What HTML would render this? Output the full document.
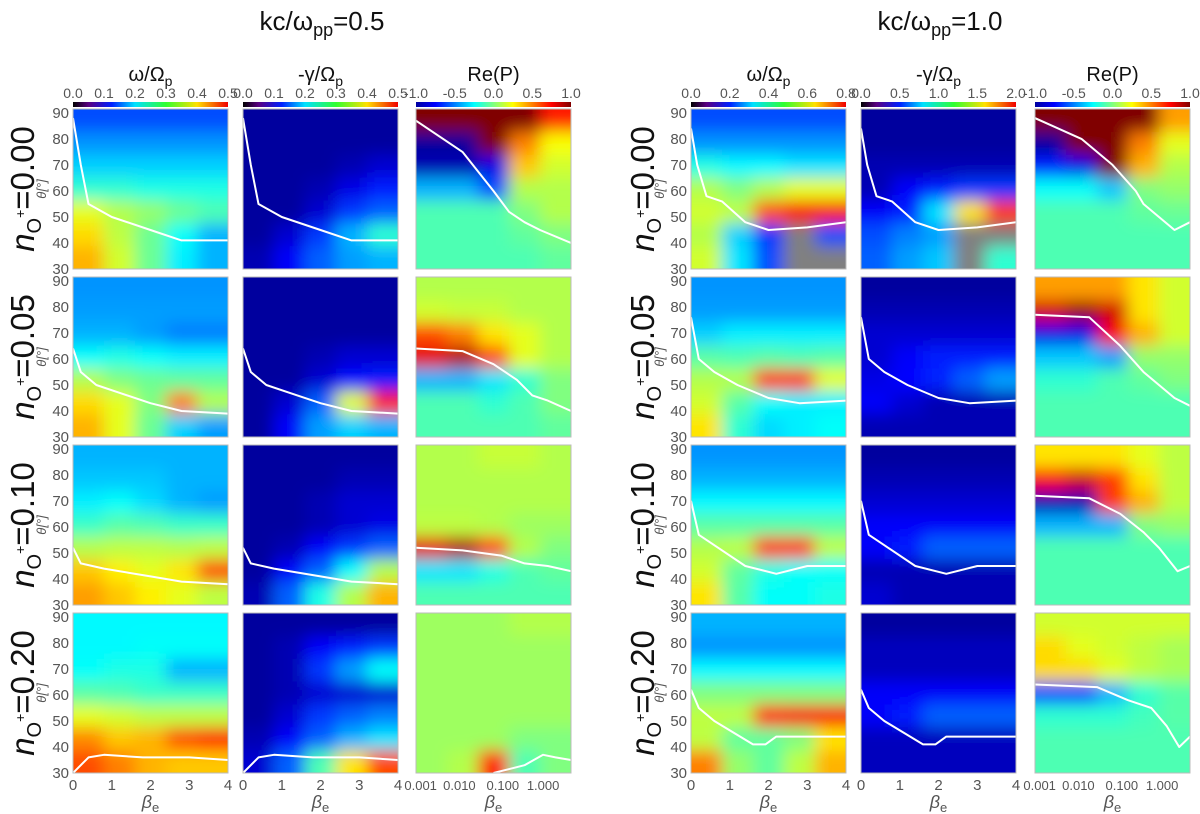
<!DOCTYPE html>
<html><head><meta charset="utf-8"><style>
html,body{margin:0;padding:0;background:#fff;}
svg{display:block;font-family:"Liberation Sans","DejaVu Sans",sans-serif;}
</style></head><body>
<svg id="fig" width="1200" height="814" viewBox="0 0 1200 814" xmlns="http://www.w3.org/2000/svg">
<defs>
<filter id="bl" x="-20%" y="-20%" width="140%" height="140%"><feGaussianBlur stdDeviation="8"/></filter>
<linearGradient id="cbJetBlack" x1="0" x2="1" y1="0" y2="0">
<stop offset="0" stop-color="#000"/><stop offset="0.1" stop-color="#5a0080"/><stop offset="0.25" stop-color="#0020ff"/><stop offset="0.4" stop-color="#00e0ff"/><stop offset="0.6" stop-color="#30ff30"/><stop offset="0.8" stop-color="#ffe000"/><stop offset="1" stop-color="#f00000"/></linearGradient>
<linearGradient id="cbJet" x1="0" x2="1" y1="0" y2="0">
<stop offset="0" stop-color="#0000a0"/><stop offset="0.125" stop-color="#0000ff"/><stop offset="0.375" stop-color="#00ffff"/><stop offset="0.625" stop-color="#ffff00"/><stop offset="0.875" stop-color="#ff0000"/><stop offset="1" stop-color="#800000"/></linearGradient>
</defs>
<text x="322" y="30" font-size="26" text-anchor="middle" fill="#111">kc/ω<tspan font-size="18" dy="6">pp</tspan><tspan dy="-6">=0.5</tspan></text>
<text x="940" y="30" font-size="26" text-anchor="middle" fill="#111">kc/ω<tspan font-size="18" dy="6">pp</tspan><tspan dy="-6">=1.0</tspan></text>
<g id="panels"></g>
</svg>
<script>
// ---- data ----
const thetaRows = [90,80,70,60,50,40,30];
const yTicks = [30,40,50,60,70,80,90];
const linTicks = ['0','1','2','3','4'];
const logTicks = ['0.001','0.010','0.100','1.000'];
const rowLabels = ['0.00','0.05','0.10','0.20'];
const colTitlesL = ['ω/Ω','-γ/Ω','Re(P)'];
const cbTicksL = [['0.0','0.1','0.2','0.3','0.4','0.5'],['0.0','0.1','0.2','0.3','0.4','0.5'],['-1.0','-0.5','0.0','0.5','1.0']];
const cbTicksR = [['0.0','0.2','0.4','0.6','0.8'],['0.0','0.5','1.0','1.5','2.0'],['-1.0','-0.5','0.0','0.5','1.0']];
const G = -1; // gray (no solution)
const gridL = [
 [
  [[.2,.2,.2,.2,.2],[.27,.27,.27,.27,.27],[.33,.33,.33,.33,.33],[.42,.42,.4,.4,.4],[.6,.55,.52,.48,.45],[.66,.56,.48,.38,.3],[.7,.58,.48,.36,.3]],
  [[.03,.03,.03,.03,.03],[.03,.03,.03,.03,.03],[.03,.03,.03,.05,.08],[.03,.03,.05,.1,.15],[.03,.03,.08,.18,.22],[.03,.08,.18,.3,.42],[.05,.12,.22,.28,.3]],
  [[1,1,1,1,.85],[.03,.03,1,.75,.62],[.05,.05,.1,.68,.58],[.3,.3,.2,.55,.55],[.45,.45,.45,.5,.55],[.45,.45,.45,.47,.5],[.45,.45,.45,.45,.47]]
 ],
 [
  [[.27,.27,.27,.27,.27],[.28,.28,.28,.28,.28],[.3,.3,.28,.25,.25],[.38,.4,.38,.36,.36],[.55,.5,.48,.47,.47],[.66,.6,.5,.75,.55],[.7,.6,.48,.33,.28]],
  [[.03,.03,.03,.03,.03],[.03,.03,.03,.03,.03],[.03,.03,.03,.03,.03],[.03,.03,.05,.08,.08],[.03,.03,.08,.14,.15],[.03,.08,.22,.6,.85],[.03,.12,.28,.33,.3]],
  [[.55,.55,.55,.55,.55],[.58,.57,.57,.55,.55],[.8,.75,.65,.6,.55],[.9,.95,.8,.6,.55],[.3,.3,.35,.42,.5],[.45,.45,.42,.45,.5],[.45,.45,.45,.45,.47]]
 ],
 [
  [[.3,.3,.3,.3,.3],[.32,.32,.32,.3,.3],[.36,.38,.34,.3,.28],[.43,.46,.45,.43,.43],[.55,.56,.56,.55,.56],[.68,.64,.6,.65,.8],[.72,.68,.64,.6,.56]],
  [[.03,.03,.03,.03,.03],[.03,.03,.03,.05,.05],[.03,.03,.05,.08,.08],[.03,.03,.05,.08,.1],[.03,.05,.12,.18,.22],[.03,.12,.22,.38,.55],[.05,.22,.4,.55,.7]],
  [[.55,.55,.57,.57,.55],[.55,.55,.55,.55,.55],[.55,.55,.55,.55,.55],[.56,.56,.55,.53,.53],[.9,.95,.8,.55,.5],[.35,.35,.4,.45,.47],[.45,.45,.45,.45,.45]]
 ],
 [
  [[.37,.37,.37,.37,.37],[.37,.37,.38,.38,.38],[.38,.4,.4,.3,.3],[.46,.45,.43,.43,.43],[.6,.58,.56,.56,.56],[.74,.68,.7,.8,.85],[.8,.75,.7,.68,.68]],
  [[.03,.03,.03,.03,.03],[.03,.05,.12,.15,.18],[.03,.05,.18,.28,.38],[.03,.05,.08,.08,.08],[.03,.08,.18,.22,.25],[.05,.12,.22,.3,.35],[.08,.22,.45,.65,.8]],
  [[.53,.53,.53,.55,.55],[.53,.53,.53,.53,.53],[.53,.53,.53,.53,.53],[.53,.53,.53,.53,.53],[.53,.53,.53,.53,.53],[.53,.53,.53,.5,.5],[.53,.55,.85,.45,.5]]
 ]
];
const gridR = [
 [
  [[.2,.2,.2,.2,.2],[.27,.27,.27,.27,.27],[.4,.37,.37,.35,.35],[.55,.5,.55,.6,.6],[.58,.56,.8,.88,.88],[.55,.33,.18,G,.2],[.58,.35,.2,G,G]],
  [[.03,.03,.03,.03,.03],[.03,.03,.03,.03,.03],[.05,.05,.05,.05,.05],[.05,.12,.15,.18,.18],[.12,.15,.35,.65,.82],[.2,.25,.28,G,G],[.22,.28,.32,G,.42]],
  [[1,1,1,1,.72],[.03,1,1,.75,.6],[.15,.1,1,.7,.55],[.38,.38,.32,.5,.52],[.45,.45,.45,.47,.48],[.45,.45,.45,.45,.45],[.45,.45,.45,.45,.45]]
 ],
 [
  [[.27,.27,.27,.27,.27],[.28,.28,.28,.28,.28],[.33,.36,.36,.36,.36],[.46,.45,.46,.45,.46],[.55,.55,.82,.82,.6],[.58,.46,.38,.36,.36],[.65,.42,.34,.36,.38]],
  [[.03,.03,.03,.03,.03],[.05,.05,.05,.05,.05],[.08,.08,.08,.08,.08],[.08,.12,.15,.15,.15],[.1,.13,.16,.22,.28],[.12,.08,.05,.05,.05],[.05,.05,.05,.05,.05]],
  [[.72,.72,.72,.65,.58],[.92,.97,.92,.65,.58],[.1,.1,.88,.7,.58],[.32,.32,.28,.52,.52],[.42,.42,.45,.47,.5],[.45,.45,.45,.45,.45],[.45,.45,.45,.45,.45]]
 ],
 [
  [[.27,.27,.27,.27,.27],[.3,.3,.3,.3,.3],[.37,.37,.37,.37,.37],[.46,.46,.46,.46,.46],[.55,.56,.82,.82,.56],[.58,.47,.4,.38,.38],[.65,.46,.38,.38,.4]],
  [[.03,.03,.03,.03,.03],[.05,.05,.05,.05,.05],[.08,.08,.08,.08,.08],[.12,.12,.12,.12,.12],[.12,.15,.22,.22,.22],[.05,.05,.05,.05,.05],[.08,.05,.05,.05,.05]],
  [[.65,.65,.65,.6,.56],[.88,.92,.82,.65,.56],[.05,.05,.82,.7,.56],[.3,.3,.3,.5,.52],[.45,.45,.45,.45,.45],[.45,.45,.45,.45,.45],[.45,.45,.45,.45,.45]]
 ],
 [
  [[.3,.3,.3,.3,.3],[.27,.27,.27,.27,.27],[.37,.37,.37,.37,.37],[.5,.5,.5,.5,.5],[.56,.56,.85,.88,.88],[.56,.47,.47,.5,.65],[.75,.52,.47,.56,.7]],
  [[.03,.03,.03,.03,.03],[.06,.06,.06,.06,.06],[.06,.06,.06,.06,.06],[.12,.12,.12,.12,.12],[.12,.15,.22,.22,.22],[.06,.06,.06,.06,.06],[.06,.06,.06,.06,.06]],
  [[.58,.58,.58,.58,.58],[.66,.6,.58,.56,.54],[.66,.66,.6,.56,.54],[.2,.2,.3,.42,.46],[.42,.42,.42,.44,.46],[.45,.45,.45,.45,.45],[.45,.45,.45,.45,.45]]
 ]
];
const curveWGL = [
 [[0,88],[.05,70],[.1,55],[.25,50],[.5,45],[.7,41],[1,41]],
 [[0,64],[.05,55],[.15,50],[.3,47],[.5,43],[.7,40],[1,39]],
 [[0,52],[.05,46],[.2,44],[.5,41],[.7,39],[1,38]],
 [[0,30],[.1,36],[.2,37],[.45,36],[.75,36],[1,35]]
];
const curvePL = [
 [[0,87],[.3,75],[.5,60],[.6,52],[.7,48],[.8,45],[1,40]],
 [[0,64],[.3,63],[.5,58],[.65,52],[.75,46],[.85,44],[1,40]],
 [[0,52],[.3,51],[.55,49],[.7,46],[.85,45],[1,43]],
 [[.5,30],[.7,33],[.82,37],[.9,36],[1,35]]
];
const curveWGR = [
 [[0,84],[.04,70],[.1,58],[.2,56],[.35,48],[.5,45],[.75,46],[1,48]],
 [[0,76],[.05,60],[.15,55],[.3,50],[.5,45],[.7,43],[1,44]],
 [[0,70],[.05,57],[.15,53],[.35,45],[.55,42],[.75,45],[1,45]],
 [[0,62],[.05,55],[.15,50],[.4,41],[.48,41],[.55,44],[1,44]]
];
const curvePR = [
 [[0,88],[.3,80],[.5,70],[.65,60],[.7,55],[.8,50],[.9,45],[1,48]],
 [[0,77],[.35,76],[.55,65],[.7,55],[.8,50],[.9,45],[1,42]],
 [[0,72],[.35,71],[.55,65],[.7,58],[.8,52],[.92,43],[1,45]],
 [[0,64],[.4,63],[.6,58],[.75,55],[.85,48],[.93,40],[1,44]]
];
// ---- layout ----
const NS='http://www.w3.org/2000/svg';
const root=document.getElementById('panels');
function el(tag,attrs,parent,text){const e=document.createElementNS(NS,tag);for(const k in attrs)e.setAttribute(k,attrs[k]);if(text!==undefined)e.textContent=text;(parent||root).appendChild(e);return e;}
const colXL=[73,243,416], colXR=[691,861,1035], PW=155;
const rowY=[109,277,445,613], PH=160;
function yS(th,y0){return y0+PH*(90+1.5-th)/(61.5);}
function jet(v){if(v<0)return'#808080';const c=x=>Math.round(255*Math.max(0,Math.min(1,x)));return`rgb(${c(1.5-Math.abs(4*v-3))},${c(1.5-Math.abs(4*v-2))},${c(1.5-Math.abs(4*v-1))})`;}
let clipId=0;
function panel(x0,y0,grid,curve,name){
  const g=el('g',{});
  
  
  const id='c'+(clipId++);
  const cp=el('clipPath',{id:id},g);el('rect',{x:x0,y:y0,width:PW,height:PH},cp);
  const cg=el('g',{'clip-path':`url(#${id})`},g);
  el('rect',{x:x0,y:y0,width:PW,height:PH,fill:jet(grid[3][2])},cg);
  const bg=el('g',{filter:'url(#bl)'},cg);
  const nr=grid.length,nc=grid[0].length,cw=PW/nc,ch=PH/nr;
  for(let r=0;r<nr;r++)for(let c=0;c<nc;c++){
    const pad=30;
    const x=x0+c*cw-(c===0?pad:0), w=cw+(c===0?pad:0)+(c===nc-1?pad:0)+1;
    const y=y0+r*ch-(r===0?pad:0), h=ch+(r===0?pad:0)+(r===nr-1?pad:0)+1;
    const cell=el('rect',{x:x,y:y,width:w,height:h,fill:jet(grid[r][c])},bg);
    
    
  }
  const pts=curve.map(p=>`${(x0+p[0]*PW).toFixed(1)},${yS(p[1],y0).toFixed(1)}`).join(' ');
  const pl=el('polyline',{points:pts,fill:'none',stroke:'#fff','stroke-width':2,'stroke-linejoin':'round'},cg);
  
  
  el('rect',{x:x0,y:y0,width:PW,height:PH,fill:'none',stroke:'#bbb','stroke-width':1},g);
}
function group(colX,grids,cWG,cP,cbT,side,rlX){
  for(let c=0;c<3;c++){
    const x0=colX[c];
    const t=el('text',{x:x0+PW/2,y:81,'font-size':20,'text-anchor':'middle',fill:'#111'},undefined,'');
    
    
    if(c<2){t.textContent=colTitlesL[c];el('tspan',{'font-size':14,dy:5},t,'p');}
    else t.textContent='Re(P)';
    const cb=el('rect',{x:x0,y:102,width:PW,height:5,fill:c<2?'url(#cbJetBlack)':'url(#cbJet)'});
    
    
    const tk=cbT[c];
    tk.forEach((s,i)=>{const tt=el('text',{x:x0+PW*i/(tk.length-1),y:98,'font-size':14,'text-anchor':'middle',fill:'#555'},undefined,s);
      });
    for(let r=0;r<4;r++){
      panel(x0,rowY[r],grids[r][c],c<2?cWG[r]:cP[r],`panel-r${r}-c${c}-${side}`);
    }
    const y4=rowY[3]+PH;
    const labels=c<2?linTicks:logTicks;
    labels.forEach((s,i)=>{
      const fx=c<2?i/(labels.length-1):[0.03,0.28,0.56,0.82][i];
      const tt=el('text',{x:x0+fx*PW,y:y4+17,'font-size':c<2?15:13,'text-anchor':'middle',fill:'#555'},undefined,s);
      
    });
    const xt=el('text',{x:x0+PW/2,y:y4+35,'font-size':18,'font-style':'italic','text-anchor':'middle',fill:'#555'},undefined,'β');
    el('tspan',{'font-size':13,dy:4,'font-style':'normal'},xt,'e');
    
  }
  for(let r=0;r<4;r++){
    const y0=rowY[r];
    yTicks.forEach(v=>{const tt=el('text',{x:colX[0]-4,y:yS(v,y0)+5,'font-size':15,'text-anchor':'end',fill:'#555'},undefined,String(v));
      });
    const yt=el('text',{x:0,y:0,'font-size':13,'font-style':'italic','text-anchor':'middle',fill:'#555',transform:`translate(${colX[0]-27},${y0+80}) rotate(-90)`},undefined,'θ[°]');
    
    const rl=el('text',{x:0,y:0,'font-size':33,'text-anchor':'middle',fill:'#111',transform:`translate(${rlX},${y0+80}) rotate(-90)`},undefined,'');
    el('tspan',{'font-style':'italic'},rl,'n');
    el('tspan',{'font-size':20,dy:7},rl,'O');
    el('tspan',{'font-size':14,dy:-16},rl,'+');
    el('tspan',{dy:9},rl,'='+rowLabels[r]);
    
  }
}
group(colXL,gridL,curveWGL,curvePL,cbTicksL,'left',34);
group(colXR,gridR,curveWGR,curvePR,cbTicksR,'right',654);
</script>
</body></html>
